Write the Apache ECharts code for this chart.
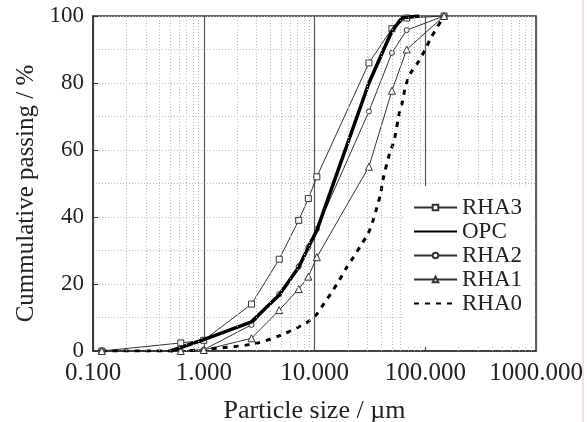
<!DOCTYPE html>
<html>
<head>
<meta charset="utf-8">
<script src="https://cdn.jsdelivr.net/npm/echarts@6/dist/echarts.min.js"></script>
<style>
  html, body { margin: 0; padding: 0; background: #fff; }
  #chart { width: 587px; height: 422px; }
</style>
</head>
<body>
<div id="chart"></div>
<script>
// particle size (µm) / cumulative passing (%)
const rha3 = [[0.12, 0], [0.62, 2.4], [1.0, 3.2], [2.7, 14], [4.8, 27.4], [7.2, 39], [8.8, 45.5], [10.5, 52], [31, 86], [50, 96.2], [68, 99.4], [148, 100]]
const opc = [[0.5, 0], [1.0, 3.4], [2.7, 8.7], [4.8, 16.7], [7.2, 25], [8.8, 31], [10.5, 36], [31, 80], [50, 95.5], [62, 99.5], [88, 100]]
const rha2 = [[0.12, 0], [0.62, 0], [1.0, 0.4], [2.7, 7.8], [4.8, 17], [7.2, 25.2], [8.8, 31], [10.5, 36.4], [31, 71.5], [50, 89], [68, 95.8], [148, 100]]
const rha1 = [[0.12, 0], [0.62, 0], [1.0, 0.3], [2.7, 3.8], [4.8, 12.2], [7.2, 18.5], [8.8, 22.2], [10.5, 28], [31, 55], [50, 77.7], [68, 90], [148, 100]]
const rha0 = [[0.12, 0], [0.62, 0], [1.0, 0.5], [2.7, 2], [4.8, 4.5], [8.3, 8.3], [10.3, 10.7], [12.2, 14.2], [14.4, 17.7], [16.8, 21.2], [19.3, 24.7], [22.6, 28.1], [26.3, 31.6], [30.5, 35.1], [33.5, 38.6], [36.7, 43], [39.6, 47], [41.4, 51], [47.5, 58.8], [52.5, 63], [57.8, 70.4], [62.8, 74.9], [66, 78.7], [73, 82.7], [87, 86.4], [100, 90], [113, 93.6], [148, 100]]

// minor log grid lines (2..9 in each decade)
const minorX = [0.2, 0.3, 0.4, 0.5, 0.6, 0.7, 0.8, 0.9, 2, 3, 4, 5, 6, 7, 8, 9, 20, 30, 40, 50, 60, 70, 80, 90, 200, 300, 400, 500, 600, 700, 800, 900]

const font = '"Liberation Serif", "Times New Roman", serif'
const ink = '#333'

const chart = echarts.init(document.getElementById('chart'), null, { renderer: 'canvas' })

function markerSeries(name, data, symbol, size) {
  return {
    name,
    type: 'line',
    data,
    symbol,
    symbolSize: size,
    lineStyle: { color: ink, width: 1 },
    itemStyle: { color: '#fff', borderColor: ink, borderWidth: 1 },
    z: 3
  }
}

// legend entries without a marker (plain line / dashed line)
const noMark = { color: 'rgba(0,0,0,0)', borderColor: 'rgba(0,0,0,0)', borderWidth: 0, opacity: 0 }

chart.setOption({
  animation: false,
  backgroundColor: '#fff',
  grid: {
    left: 93, right: 51, top: 16, bottom: 71,
    outerBoundsMode: 'none',
    show: true, borderColor: ink, borderWidth: 1.5
  },
  legend: {
    data: [
      { name: 'RHA3' },
      { name: 'OPC', itemStyle: noMark },
      { name: 'RHA2' },
      { name: 'RHA1' },
      { name: 'RHA0', itemStyle: noMark }
    ],
    orient: 'vertical',
    left: 405, top: 186,
    padding: [10, 12, 32, 8],
    backgroundColor: '#fff',
    itemWidth: 43, itemHeight: 7, itemGap: 1,
    textStyle: { fontFamily: font, fontSize: 23, color: '#222', lineHeight: 21.5 },
    z: 10
  },
  xAxis: {
    type: 'log', logBase: 10, min: 0.1, max: 1000,
    name: 'Particle size / µm', nameLocation: 'middle', nameGap: 47,
    nameTextStyle: { fontFamily: font, fontSize: 26, color: '#222' },
    axisLine: { lineStyle: { color: ink, width: 1.5 } },
    axisTick: { show: false },
    axisLabel: {
      fontFamily: font, fontSize: 25, color: '#222', margin: 10,
      showMinLabel: true, showMaxLabel: true,
      formatter: v => Number(v).toFixed(3)
    },
    splitLine: { show: true, lineStyle: { color: '#555', width: 1.2 } }
  },
  yAxis: {
    type: 'value', min: 0, max: 100, interval: 20,
    name: 'Cummulative passing / %', nameLocation: 'middle', nameGap: 48,
    nameTextStyle: { fontFamily: font, fontSize: 25, color: '#222', padding: [0, 20, 0, 0] },
    axisLine: { show: true, lineStyle: { color: ink, width: 1.5 } },
    axisTick: { show: true, inside: true, length: 5, lineStyle: { color: ink } },
    axisLabel: { fontFamily: font, fontSize: 23, color: '#222', margin: 9 },
    splitLine: { show: true, lineStyle: { color: '#bbb', type: [1, 2] } },
    minorTick: { show: false, splitNumber: 2 },
    minorSplitLine: { show: true, lineStyle: { color: '#bbb', type: [1, 2] } }
  },
  series: [
    {
      name: 'grid', type: 'line', data: [], silent: true, z: 1,
      markLine: {
        silent: true, symbol: 'none', label: { show: false },
        lineStyle: { color: '#bbb', type: [1, 2], width: 1 },
        data: minorX.map(v => ({ xAxis: v }))
      }
    },
    markerSeries('RHA3', rha3, 'rect', 6),
    {
      name: 'OPC', type: 'line', data: opc, showSymbol: false, symbol: 'none',
      lineStyle: { color: '#000', width: 3.5 }, itemStyle: { color: '#000' }, z: 4
    },
    markerSeries('RHA2', rha2, 'circle', 5),
    markerSeries('RHA1', rha1, 'triangle', 7),
    {
      name: 'RHA0', type: 'line', data: rha0, showSymbol: false, symbol: 'none', smooth: 0.3,
      lineStyle: { color: '#000', width: 3, type: [5, 6] }, itemStyle: { color: '#000' }, z: 3
    }
  ],
  graphic: [{
    type: 'line', shape: { x1: 583, y1: 0, x2: 583, y2: 422 },
    style: { stroke: '#f2b8b8', lineWidth: 1 }
  }]
})
</script>
</body>
</html>
